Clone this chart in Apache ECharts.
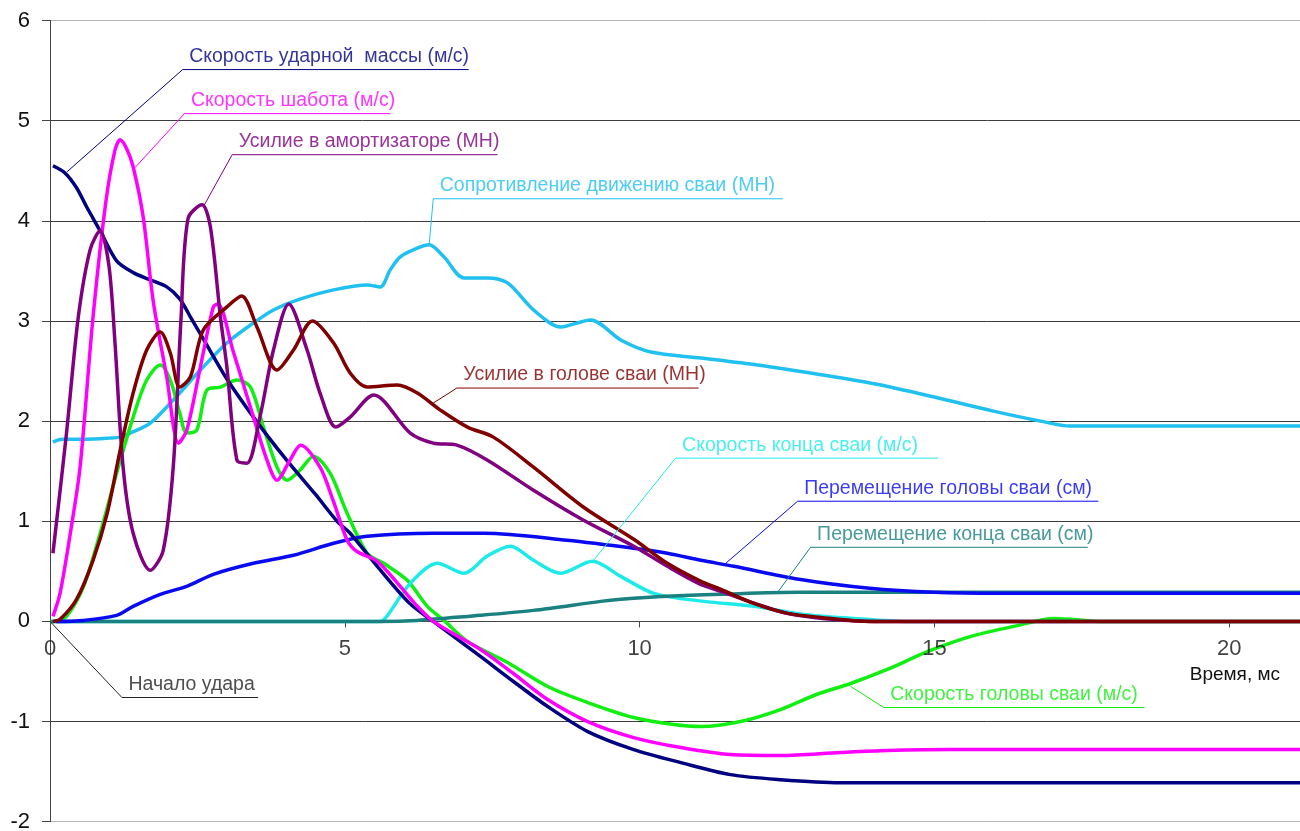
<!DOCTYPE html>
<html>
<head>
<meta charset="utf-8">
<title>Удар сваи</title>
<script src="https://cdn.jsdelivr.net/npm/echarts@6.0.0/dist/echarts.min.js"></script>
<style>
  html, body { margin: 0; padding: 0; background: #fff; }
  #chart { width: 1300px; height: 831px; }
</style>
</head>
<body>
<div id="chart"></div>
<script>
// оси
var xTicks = [0, 5, 10, 15, 20];
var yTicks = [-2, -1, 0, 1, 2, 3, 4, 5, 6];
var xMax = 21.2;

// [время мс, значение]
var hammerVel = [[0.05,4.55],[0.25,4.48],[0.45,4.33],[0.62,4.14],[0.85,3.9],[1.13,3.6],[1.42,3.48],[1.7,3.41],[1.98,3.34],[2.2,3.22],
  [2.4,3.02],[2.6,2.82],[3.0,2.42],[3.5,2.0],[4.0,1.62],[4.5,1.27],[4.87,1.0],[5.09,0.88],[5.55,0.55],[6.1,0.18],[6.5,0.0],
  [7.3,-0.35],[7.86,-0.6],[8.44,-0.85],[9.12,-1.1],[9.9,-1.28],[10.7,-1.41],[11.54,-1.53],[12.39,-1.58],[13.4,-1.61],[21.2,-1.61]];
var anvilVel = [[0.05,0.05],[0.17,0.28],[0.35,0.9],[0.51,1.54],[0.73,3.04],[0.95,4.2],[1.1,4.7],[1.19,4.81],[1.3,4.72],
  [1.41,4.54],[1.58,4.04],[1.75,3.2],[1.98,2.44],[2.18,1.78],[2.32,1.91],[2.55,2.54],[2.77,3.14],[2.85,3.17],[3.1,2.71],
  [3.45,2.04],[3.68,1.61],[3.85,1.41],[4.07,1.61],[4.25,1.76],[4.58,1.54],[4.8,1.21],[5.04,0.81],[5.2,0.7],[5.55,0.6],
  [5.94,0.35],[6.2,0.17],[6.5,0.0],[7.3,-0.28],[7.86,-0.52],[8.44,-0.78],[9.12,-1.0],[9.9,-1.16],[10.7,-1.26],[11.54,-1.33],
  [12.4,-1.34],[13.4,-1.31],[14.2,-1.29],[15.3,-1.28],[21.2,-1.28]];
var cushionForce = [[0.05,0.68],[0.28,1.88],[0.48,3.04],[0.68,3.71],[0.85,3.9],[1.0,3.55],[1.1,2.8],[1.24,1.54],[1.41,0.88],
  [1.7,0.51],[1.92,0.71],[2.09,1.54],[2.22,3.0],[2.34,4.02],[2.58,4.16],[2.72,3.94],[2.89,3.04],[3.0,2.54],[3.17,1.61],
  [3.34,1.58],[3.56,2.04],[3.79,2.71],[4.05,3.17],[4.36,2.71],[4.58,2.28],[4.85,1.94],[5.09,2.04],[5.49,2.26],[6.11,1.88],
  [6.5,1.78],[6.9,1.76],[7.42,1.61],[8.2,1.31],[9.05,1.01],[9.9,0.75],[10.47,0.55],[11.0,0.38],[11.38,0.3],[12.0,0.17],
  [12.5,0.08],[13.1,0.03],[14.0,0.0],[21.2,0.0]];
var soilResist = [[0.05,1.79],[0.2,1.82],[0.6,1.82],[1.0,1.83],[1.19,1.84],[1.36,1.88],[1.7,1.98],[2.09,2.21],[2.55,2.51],
  [3.0,2.78],[3.45,2.98],[3.79,3.11],[4.2,3.21],[4.81,3.31],[5.38,3.36],[5.6,3.34],[5.77,3.51],[5.94,3.64],[6.2,3.72],
  [6.43,3.76],[6.68,3.64],[7.02,3.43],[7.41,3.43],[7.76,3.38],[8.2,3.11],[8.66,2.94],[9.17,3.01],[9.68,2.81],[10.19,2.69],
  [11.04,2.63],[12.0,2.56],[13.0,2.47],[14.0,2.37],[15.0,2.24],[16.0,2.1],[16.8,2.0],[17.3,1.95],[21.2,1.95]];
var headForce = [[0.05,0.0],[0.17,0.02],[0.45,0.22],[0.73,0.61],[0.97,1.08],[1.19,1.71],[1.41,2.28],[1.64,2.71],[1.87,2.89],
  [2.04,2.68],[2.2,2.34],[2.38,2.44],[2.6,2.91],[3.0,3.14],[3.25,3.25],[3.51,2.94],[3.85,2.51],[4.13,2.71],[4.45,3.0],
  [4.81,2.78],[5.09,2.48],[5.38,2.34],[5.89,2.36],[6.23,2.28],[6.62,2.11],[7.08,1.94],[7.52,1.84],[8.2,1.54],[9.05,1.14],
  [9.9,0.82],[10.47,0.58],[11.04,0.4],[11.38,0.32],[11.94,0.18],[12.51,0.08],[13.07,0.04],[13.9,0.0],[21.2,0.0]];
var headVel = [[0.1,0.0],[0.28,0.05],[0.57,0.35],[0.85,0.88],[1.13,1.48],[1.41,2.04],[1.64,2.41],[1.87,2.56],[2.04,2.41],
  [2.2,2.08],[2.32,1.88],[2.49,1.91],[2.66,2.31],[2.89,2.34],[3.17,2.41],[3.4,2.34],[3.62,1.94],[3.85,1.54],[4.02,1.41],
  [4.24,1.51],[4.47,1.65],[4.75,1.48],[5.04,1.08],[5.38,0.68],[5.66,0.58],[6.06,0.41],[6.4,0.15],[6.7,0.0],[7.08,-0.2],
  [7.76,-0.41],[8.44,-0.65],[9.12,-0.81],[9.9,-0.96],[10.58,-1.03],[11.04,-1.05],[11.71,-1.0],[12.39,-0.88],[13.0,-0.73],
  [13.58,-0.62],[14.2,-0.48],[14.89,-0.3],[15.62,-0.15],[16.35,-0.05],[17.03,0.03],[17.9,0.0],[21.2,0.0]];
var tipVel = [[0,0],[5.6,0.0],[5.7,0.04],[6.11,0.38],[6.57,0.58],[7.02,0.48],[7.41,0.65],[7.81,0.75],[8.2,0.61],[8.66,0.48],
  [9.2,0.6],[9.68,0.45],[10.24,0.28],[11.09,0.2],[11.94,0.15],[12.78,0.07],[13.64,0.03],[14.5,0.0],[21.2,0.0]];
var tipDisp = [[0,0],[5.6,0.0],[6.23,0.01],[7.08,0.05],[8.2,0.11],[9.34,0.2],[9.68,0.22],[10.47,0.25],[11.38,0.27],
  [12.7,0.29],[14.4,0.29],[21.2,0.29]];
var headDisp = [[0.1,0.0],[0.57,0.01],[1.13,0.06],[1.41,0.15],[1.87,0.27],[2.32,0.35],[2.77,0.47],[3.45,0.58],[4.13,0.66],
  [4.81,0.78],[5.38,0.85],[6.5,0.88],[7.36,0.88],[8.77,0.81],[9.9,0.73],[10.47,0.68],[11.04,0.61],[11.6,0.55],[12.7,0.42],
  [13.9,0.33],[15.0,0.29],[16.1,0.28],[21.2,0.28]];

// подписи: точка на кривой, излом выноски, конец подчёркивания
var notes = [
  { text: "Скорость ударной  массы (м/с)", color: "#000080", at: [0.29, 4.49], knee: [2.25, 5.51], end: [7.1, 5.51] },
  { text: "Скорость шабота (м/с)", color: "#ff00ff", at: [1.44, 4.53], knee: [2.28, 5.07], end: [5.77, 5.07] },
  { text: "Усилие в амортизаторе (МН)", color: "#800080", at: [2.6, 4.14], knee: [3.09, 4.66], end: [7.59, 4.66] },
  { text: "Сопротивление движению сваи (МН)", color: "#20c0f0", at: [6.43, 3.76], knee: [6.5, 4.22], end: [12.43, 4.22] },
  { text: "Усилие в голове сваи (МН)", color: "#800000", at: [6.5, 2.18], knee: [6.9, 2.33], end: [11.0, 2.33] },
  { text: "Скорость конца сваи (м/с)", color: "#1eeaea", at: [9.22, 0.61], knee: [10.61, 1.63], end: [15.06, 1.63] },
  { text: "Перемещение головы сваи (см)", color: "#0a0af0", at: [11.46, 0.58], knee: [12.68, 1.2], end: [17.78, 1.2] },
  { text: "Перемещение конца сваи (см)", color: "#1a8080", at: [12.34, 0.29], knee: [12.9, 0.74], end: [17.6, 0.74] },
  { text: "Скорость головы сваи (м/с)", color: "#11ee11", at: [13.58, -0.65], knee: [14.14, -0.86], end: [18.56, -0.86] },
  { text: "Начало удара", color: "#222222", at: [0, 0], knee: [1.22, -0.76], end: [3.53, -0.76] }
];

var font = "'Liberation Sans', Arial, sans-serif";

function curve(name, data, color) {
  return {
    name: name,
    type: "line",
    data: data,
    smooth: 0.3,
    symbol: "none",
    lineStyle: { width: 3.5, color: color },
    itemStyle: { color: color },
    silent: true,
  };
}

var series = [
  curve("Сопротивление", soilResist, "#20c0f0"),
  curve("Скорость головы", headVel, "#11ee11"),
  curve("Скорость конца", tipVel, "#1eeaea"),
  curve("Перемещение конца", tipDisp, "#1a8080"),
  curve("Перемещение головы", headDisp, "#0a0af0"),
  curve("Скорость ударной массы", hammerVel, "#000080"),
  curve("Скорость шабота", anvilVel, "#ff00ff"),
  curve("Усилие в амортизаторе", cushionForce, "#800080"),
  curve("Усилие в голове", headForce, "#800000"),
];

notes.forEach(function (n) {
  series.push({
    type: "line",
    data: [n.at, n.knee, n.end],
    symbol: "none",
    lineStyle: { width: 1, color: n.color },
    silent: true,
    z: 3,
  });
  series.push({
    type: "scatter",
    data: [n.knee],
    symbolSize: 1,
    itemStyle: { color: "rgba(0,0,0,0)" },
    silent: true,
    z: 4,
    label: {
      show: true,
      position: "right",
      distance: 6,
      offset: [0, -13],
      formatter: n.text,
      color: n.color,
      fontFamily: font,
      fontSize: 19.5,
    },
  });
});

// подписи делений оси времени (ось проходит через ноль)
series.push({
  type: "scatter",
  data: xTicks.map(function (t) { return [t, 0]; }),
  symbolSize: 1,
  itemStyle: { color: "rgba(0,0,0,0)" },
  silent: true,
  z: 4,
  label: {
    show: true,
    position: "bottom",
    distance: 16,
    formatter: function (p) { return String(p.value[0]); },
    color: "#111",
    fontFamily: font,
    fontSize: 22,
  },
});

var chart = echarts.init(document.getElementById("chart"));
var splitColors = yTicks.map(function (v, i) {
  return i === 0 || i === yTicks.length - 1 ? "#b4b4b4" : "#3c3c3c";
});

var option = {
  animation: false,
  backgroundColor: "#ffffff",
  grid: {
    left: 50,
    right: 0,
    top: 20.5,
    bottom: 9.3,
    containLabel: false,
    outerBoundsMode: "none",
  },
  xAxis: {
    type: "value",
    min: xTicks[0],
    max: xMax,
    interval: 5,
    name: "Время, мс",
    nameLocation: "end",
    nameGap: -20,
    nameTextStyle: {
      align: "right",
      verticalAlign: "top",
      padding: [44, 0, 0, 0],
      color: "#111",
      fontFamily: font,
      fontSize: 19,
    },
    axisLine: { show: true, onZero: true, lineStyle: { color: "#444", width: 1 } },
    axisTick: { show: true, length: 6, lineStyle: { color: "#444" } },
    axisLabel: { show: false },
    splitLine: { show: false },
  },
  yAxis: {
    type: "value",
    min: yTicks[0],
    max: yTicks[yTicks.length - 1],
    interval: 1,
    axisLine: { show: true, onZero: false, lineStyle: { color: "#444", width: 1 } },
    axisTick: { show: true, length: 8, lineStyle: { color: "#444" } },
    axisLabel: {
      margin: 20,
      color: "#111",
      fontFamily: font,
      fontSize: 22,
    },
    splitLine: { show: true, lineStyle: { color: splitColors, width: 1 } },
  },
  series: series,
};
chart.setOption(option);
</script>
</body>
</html>
